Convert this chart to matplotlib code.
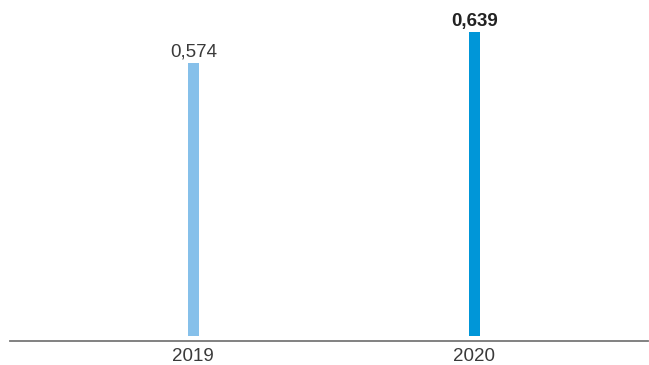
import matplotlib.pyplot as plt

years = ["2019", "2020"]
values = [0.574, 0.639]
labels = ["0,574", "0,639"]
colors = ["#86c0ea", "#0096d8"]
weights = ["normal", "bold"]

plt.rcParams["font.family"] = ["Liberation Sans", "DejaVu Sans"]

fig = plt.figure(figsize=(6.49, 3.65), dpi=100)
ax = fig.add_axes([10 / 649, 24 / 365, 638 / 649, 341 / 365])

x = list(range(len(years)))
ax.bar(x, values, width=11 / 281, color=colors)

for xi, v, lab, w in zip(x, values, labels, weights):
    ax.text(xi, v + 0.005, lab, ha="center", va="bottom", fontsize=13.5,
            fontweight=w, color="#3a3a3a" if w == "normal" else "#222222")

ax.set_xlim(-183.5 / 281, 1 + 174 / 281)
ax.set_ylim(-5 / 475.7, 336 / 475.7)

ax.set_xticks(x)
ax.set_xticklabels(years, fontsize=13.5, color="#3a3a3a")
ax.tick_params(axis="x", length=0, pad=5)
ax.set_yticks([])

for s in ["top", "right", "left"]:
    ax.spines[s].set_visible(False)
ax.spines["bottom"].set_color("#777777")
ax.spines["bottom"].set_linewidth(1.3)

fig.savefig("out.png", dpi=100)
